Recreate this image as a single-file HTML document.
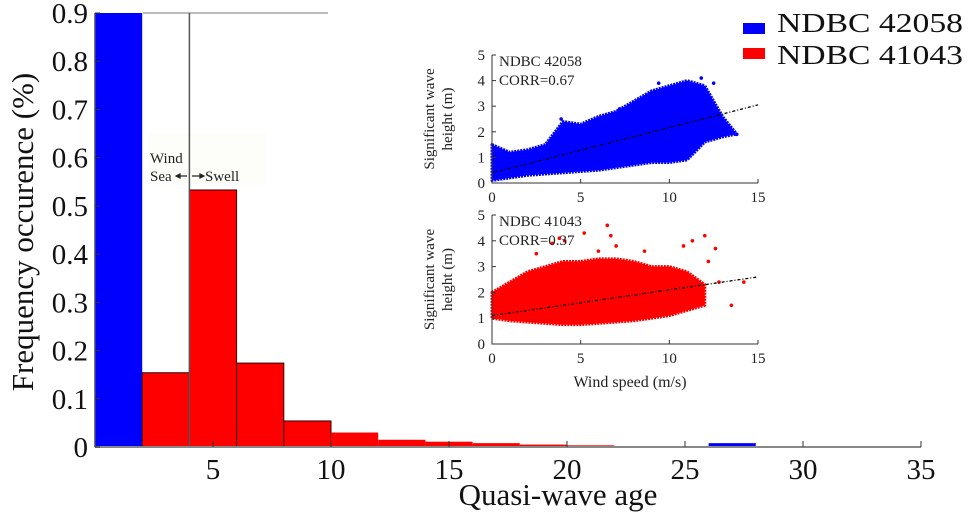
<!DOCTYPE html>
<html><head><meta charset="utf-8"><style>
html,body{margin:0;padding:0;background:#fff;}
svg{display:block;font-family:"Liberation Serif",serif;}
</style></head><body>
<svg id="chart" width="968" height="517" viewBox="0 0 968 517">
<g id="main"></g><g id="insets"></g>
</svg>
<script>
// ---- main histogram data ----
const binStarts = [2,4,6,8,10,12,14,16,18,20];
const redValues = [0.154,0.533,0.174,0.054,0.030,0.015,0.011,0.008,0.005,0.0035];
const blueStarts = [0,26];
const blueValues = [0.9,0.008];
const binWidth = 2;
const xTicks = [5,10,15,20,25,30,35];
const yTicks = [0,0.1,0.2,0.3,0.4,0.5,0.6,0.7,0.8,0.9];
const yTickLabels = ["0","0.1","0.2","0.3","0.4","0.5","0.6","0.7","0.8","0.9"];
const separatorAge = 4;

// ---- inset data ----
const windSpeed = [0,1,2,3,4,5,6,7,8,9,10,11,12,13,13.7];
const blueLower = [0.1,0.2,0.3,0.35,0.4,0.45,0.5,0.6,0.7,0.8,0.8,0.9,1.6,1.8,1.9];
const blueUpper = [1.5,1.2,1.3,1.5,2.4,2.3,2.6,2.8,3.2,3.6,3.8,4.0,3.8,2.6,2.0];
const redWind = [0,1,2,3,4,5,6,7,8,9,10,11,12];
const redLower = [1.0,0.9,0.85,0.8,0.75,0.75,0.8,0.85,0.9,1.0,1.1,1.3,1.5];
const redUpper = [2.0,2.4,2.8,3.0,3.2,3.2,3.3,3.3,3.2,3.0,3.0,2.8,2.3];
const blueOutX = [3.9,4.1,7.2,9.4,11.8,12.5,13.1,13.8,10.8,6.8,2.5];
const blueOutY = [2.5,2.3,2.9,3.9,4.1,3.9,2.1,1.9,3.8,2.7,0.9];
const redOutX = [2.5,3.4,4.1,5.2,6.0,6.5,6.7,7.0,8.6,10.8,11.3,12.0,12.2,12.6,13.5,14.2,11.8,12.8,3.8];
const redOutY = [3.5,3.9,4.0,4.3,3.6,4.6,4.2,3.8,3.6,3.8,4.0,4.2,3.2,3.7,1.5,2.4,1.6,2.4,4.1];
const blueFit = [0.4,3.05];
const redFit = [1.1,2.6];
const insetXTicks = [0,5,10,15];
const insetYTicks = [0,1,2,3,4,5];

const NS="http://www.w3.org/2000/svg";
function mk(tag,attrs,parent,text){const e=document.createElementNS(NS,tag);for(const k in attrs)e.setAttribute(k,attrs[k]);if(text!==undefined)e.textContent=text;parent.appendChild(e);return e;}

const main=document.getElementById('main');
const X0=95,X1=921,Y0=447,Y9=13;
const xs=v=>X0+(X1-X0)*v/35;
const ys=v=>Y0-(Y0-Y9)*v/0.9;

// wind/swell label background
let bg=mk('rect',{x:148,y:133,width:118,height:52,fill:'#fdfdfa'},main);



// top grey line
let tl=mk('line',{x1:143,y1:13,x2:328,y2:13,stroke:'#bbb','stroke-width':2},main);



// blue bars
blueStarts.forEach((s,i)=>{
  const y=ys(Math.min(blueValues[i],0.9));
  const r=mk('rect',{x:xs(s),y:y,width:xs(s+binWidth)-xs(s),height:Y0-y,fill:'#0000ff'},main);
  
  
});
// red bars
binStarts.forEach((s,i)=>{
  const y=ys(redValues[i]);
  const r=mk('rect',{x:xs(s),y:y,width:xs(s+binWidth)-xs(s),height:Y0-y,fill:'#ff0000',stroke:i<4?'#300':'none','stroke-width':i<4?1:0},main);
  
  
});

// separator line
let sep=mk('line',{x1:xs(separatorAge),y1:13,x2:xs(separatorAge),y2:Y0,stroke:'#555','stroke-width':1.5},main);



// axes
let xa=mk('line',{x1:X0,y1:Y0,x2:X1,y2:Y0,stroke:'#888','stroke-width':2},main);


let ya=mk('line',{x1:X0,y1:Y9,x2:X0,y2:Y0,stroke:'#447','stroke-width':1.5},main);



xTicks.forEach(t=>{
  const x=xs(t);
  let tk=mk('line',{x1:x,y1:Y0,x2:x,y2:Y0-6,stroke:'#333','stroke-width':1},main);
  
  
  let lb=mk('text',{x:x,y:Y0+32,'font-size':29,'text-anchor':'middle',fill:'#111'},main,String(t));
  
  
});
yTicks.forEach((t,i)=>{
  const y=ys(t);
  let tk=mk('line',{x1:X0,y1:y,x2:X0+5,y2:y,stroke:'#333','stroke-width':1},main);
  
  
  let lb=mk('text',{x:88,y:y+10,'font-size':29,'text-anchor':'end',fill:'#111'},main,yTickLabels[i]);
  
  
});

let xt=mk('text',{x:558,y:505,'font-size':31,'text-anchor':'middle',fill:'#111'},main,'Quasi-wave age');


let yt=mk('text',{x:0,y:0,'font-size':31,'text-anchor':'middle',fill:'#111',transform:'translate(33,232) rotate(-90)'},main,'Frequency occurence (%)');



// annotations
let w1=mk('text',{x:150,y:163,'font-size':15,fill:'#222'},main,'Wind');


let w2=mk('text',{x:150,y:181,'font-size':15,fill:'#222'},main,'Sea');


let w3=mk('text',{x:205,y:181,'font-size':15,fill:'#222'},main,'Swell');


let ar=mk('path',{d:'M176 176 H187 M176 176 l4 -2 v4 z M192 176 H204 M204 176 l-4 -2 v4 z',stroke:'#222','stroke-width':1.2,fill:'#222'},main);



// legend
let l1=mk('rect',{x:743,y:23,width:22,height:11,fill:'#0000ff'},main);


let l1t=mk('text',{x:777,y:32,'font-size':27,textLength:186,lengthAdjust:'spacingAndGlyphs',fill:'#111'},main,'NDBC 42058');


let l2=mk('rect',{x:743,y:48,width:22,height:11,fill:'#ff0000'},main);


let l2t=mk('text',{x:777,y:64,'font-size':27,textLength:186,lengthAdjust:'spacingAndGlyphs',fill:'#111'},main,'NDBC 41043');



// ---- insets ----
const ins=document.getElementById('insets');
function inset(top0,top5,wx,lo,hi,ox,oy,fit,color,name,label,corr){
  const IX0=492,IX1=758;
  const sx=v=>IX0+(IX1-IX0)*v/15;
  const sy=v=>top0-(top0-top5)*v/5;
  const g=mk('g',{},ins);
  
  
  let pts=wx.map((w,i)=>sx(w)+','+sy(hi[i]));
  for(let i=wx.length-1;i>=0;i--)pts.push(sx(wx[i])+','+sy(lo[i]));
  let poly=mk('polygon',{points:pts.join(' '),fill:color,stroke:color,'stroke-width':3,'stroke-linejoin':'round','stroke-dasharray':'2 1'},g);
  
  
  ox.forEach((x,i)=>{
    let c=mk('circle',{cx:sx(x),cy:sy(oy[i]),r:1.8,fill:color},g);
    
    
  });
  let fl=mk('line',{x1:sx(0),y1:sy(fit[0]),x2:sx(15),y2:sy(fit[1]),stroke:'#000','stroke-width':1.3,'stroke-dasharray':'3 2 1 2'},g);
  
  
  let ax=mk('path',{d:`M${IX0} ${top5} V${top0} H${IX1}`,stroke:'#333',fill:'none','stroke-width':1},g);
  
  
  insetXTicks.forEach(t=>{
    let tk=mk('line',{x1:sx(t),y1:top0,x2:sx(t),y2:top0-4,stroke:'#333'},g);
    
    
    let lb=mk('text',{x:sx(t),y:top0+19,'font-size':15,'text-anchor':'middle',fill:'#222'},g,String(t));
    
    
  });
  insetYTicks.forEach(t=>{
    let tk=mk('line',{x1:IX0,y1:sy(t),x2:IX0+4,y2:sy(t),stroke:'#333'},g);
    
    
    let lb=mk('text',{x:485,y:sy(t)+5,'font-size':15,'text-anchor':'end',fill:'#222'},g,String(t));
    
    
  });
  let t1=mk('text',{x:IX0+7,y:top5+11,'font-size':15,fill:'#222'},g,label);
  
  
  let t2=mk('text',{x:IX0+7,y:top5+30,'font-size':15,fill:'#222'},g,corr);
  
  
  const cy=(top0+top5)/2;
  let y1=mk('text',{x:0,y:0,'font-size':15,'text-anchor':'middle',fill:'#222',transform:`translate(434,${cy}) rotate(-90)`},g,'Significant wave');
  
  
  let y2=mk('text',{x:0,y:0,'font-size':15,'text-anchor':'middle',fill:'#222',transform:`translate(452,${cy}) rotate(-90)`},g,'height (m)');
  
  
}
inset(183,55,windSpeed,blueLower,blueUpper,blueOutX,blueOutY,blueFit,'#0000ff','42058','NDBC 42058','CORR=0.67');
inset(344,215,redWind,redLower,redUpper,redOutX,redOutY,redFit,'#ff0000','41043','NDBC 41043','CORR=0.37');
let ws=mk('text',{x:630,y:387,'font-size':16,'text-anchor':'middle',fill:'#222'},ins,'Wind speed (m/s)');


</script>
</body></html>
